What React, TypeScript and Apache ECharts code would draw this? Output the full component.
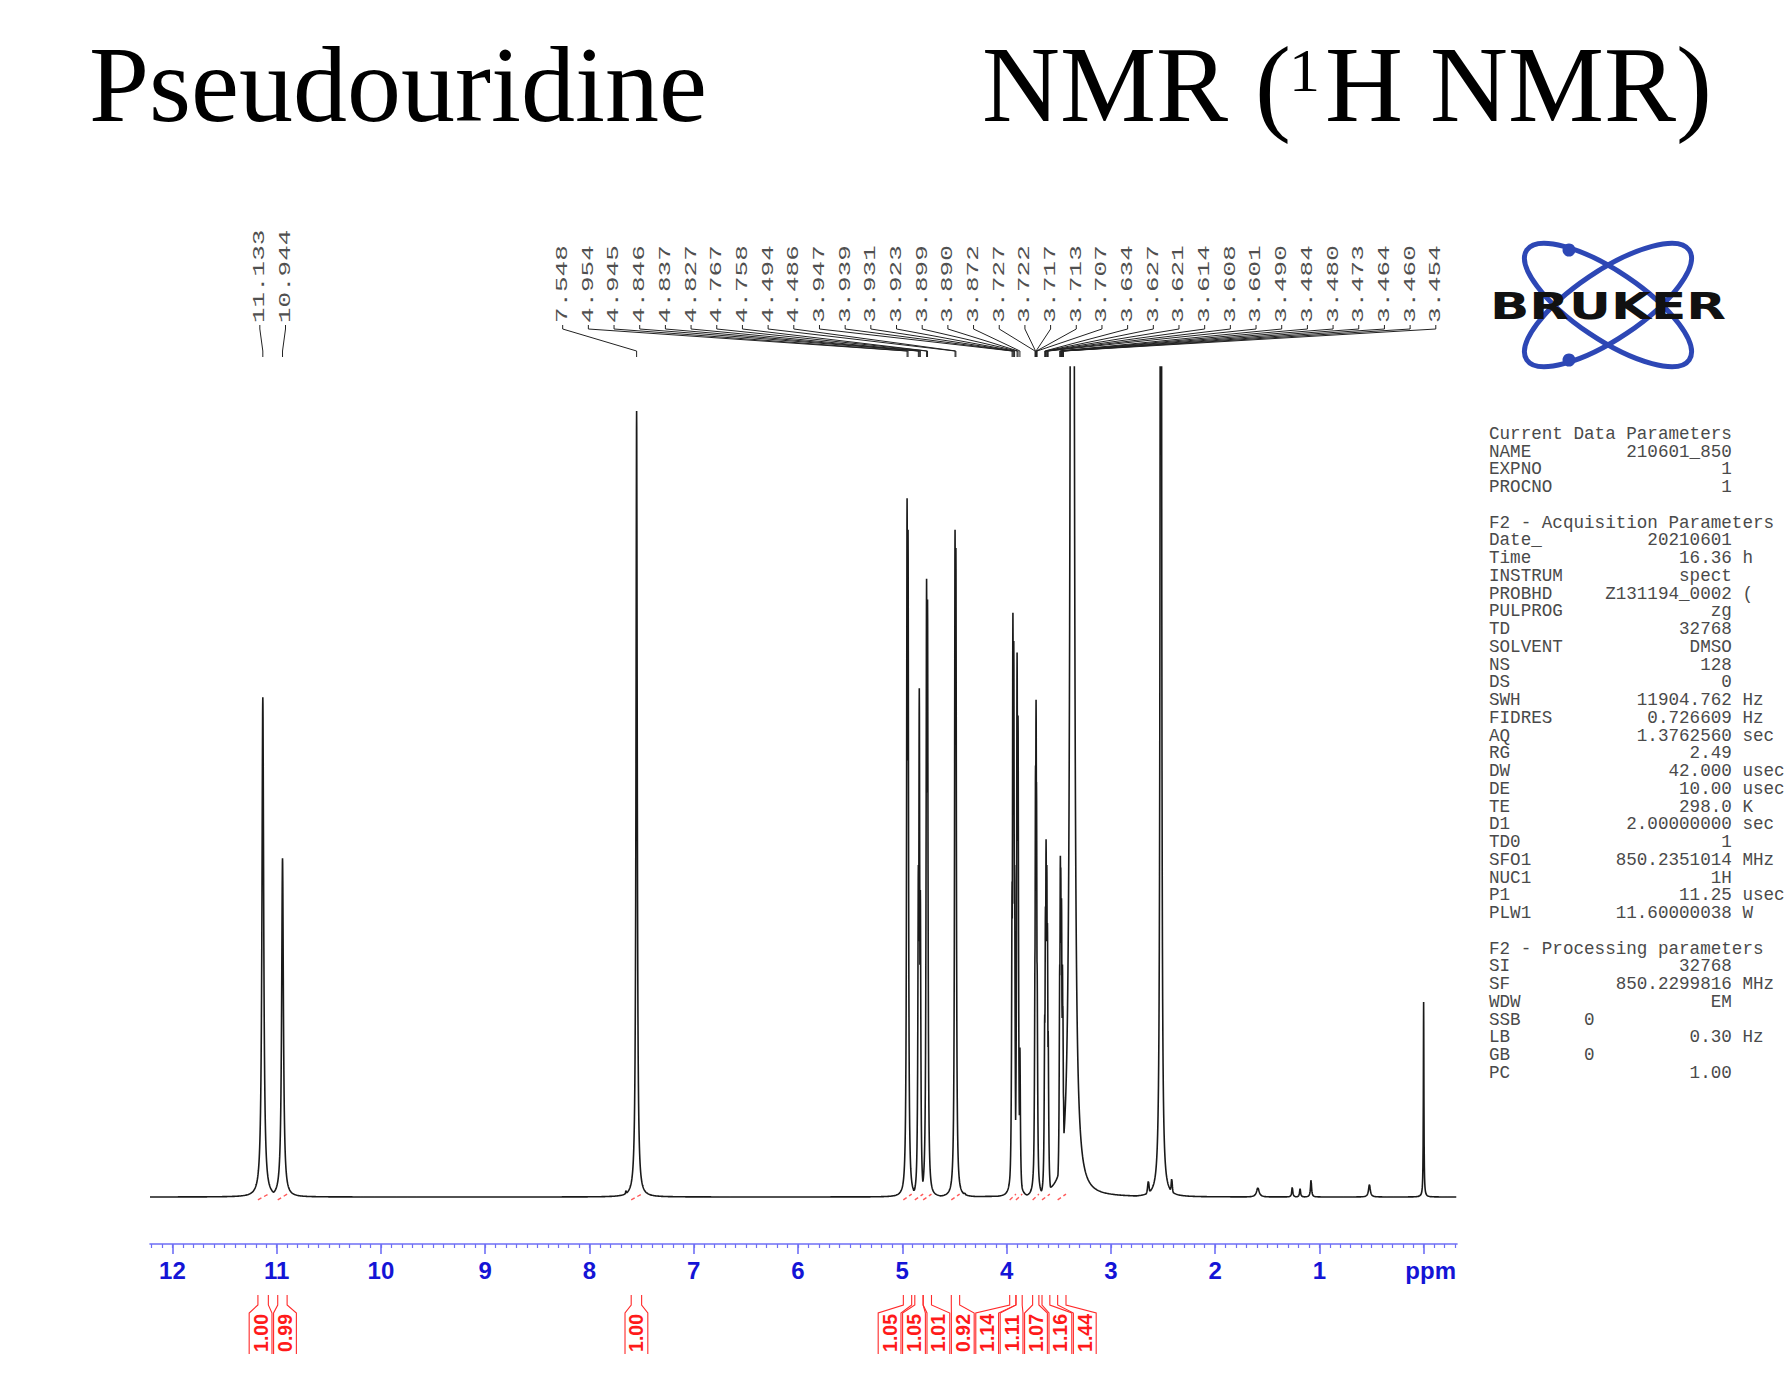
import React, { useEffect, useRef } from 'react';
import * as echarts from 'echarts';

// ---------- data ----------
const labeledShifts = [11.133, 10.944, 7.548, 4.954, 4.945, 4.846, 4.837, 4.827, 4.767, 4.758, 4.494, 4.486, 3.947, 3.939, 3.931, 3.923, 3.899, 3.890, 3.872, 3.727, 3.722, 3.717, 3.713, 3.707, 3.634, 3.627, 3.621, 3.614, 3.608, 3.601, 3.490, 3.484, 3.480, 3.473, 3.464, 3.460, 3.454];
const labeledHeights = [60.2, 40.8, 94.7, 84.2, 80.4, 40, 61.3, 37, 74.5, 72, 80.4, 78.2, 38, 70.4, 67, 40, 65.6, 58, 18, 30, 52, 59.9, 50, 28, 22, 35, 43.1, 40, 33, 20, 28, 41.1, 39.7, 36, 28, 23, 12];
const labeledWidths = [0.010, 0.010, 0.007, 0.0055, 0.0055, 0.0055, 0.0055, 0.0055, 0.0055, 0.0055, 0.0055, 0.0055, 0.0055, 0.0055, 0.0055, 0.0055, 0.0055, 0.0055, 0.0055, 0.0055, 0.0055, 0.0055, 0.0055, 0.0055, 0.0055, 0.0055, 0.0055, 0.0055, 0.0055, 0.0055, 0.0055, 0.0055, 0.0055, 0.0055, 0.0055, 0.0055, 0.0055];

// unlabeled signals: water, DMSO, TMS and small impurities
const extraShifts = [3.37, 2.52, 0.0, 2.64, 2.416, 1.59, 1.26, 1.185, 1.08, 0.52, 7.65, 7.45, 4.40];
const extraHeights = [600, 300, 23.5, 1.9, 2.2, 1.1, 1.2, 1.0, 2.1, 1.5, 0.8, 0.5, 0.5];
const extraWidths = [0.009, 0.005, 0.003, 0.01, 0.008, 0.015, 0.006, 0.006, 0.006, 0.01, 0.006, 0.006, 0.01];

const integralRanges = [[11.18, 11.08], [10.99, 10.90], [7.60, 7.50], [4.99, 4.91], [4.88, 4.80], [4.80, 4.72], [4.53, 4.45], [3.97, 3.91], [3.91, 3.85], [3.75, 3.69], [3.66, 3.585], [3.51, 3.43]];
const integralValues = ['1.00', '0.99', '1.00', '1.05', '1.05', '1.01', '0.92', '1.14', '1.11', '1.07', '1.16', '1.44'];

const majorTicks = [0, 1, 2, 3, 4, 5, 6, 7, 8, 9, 10, 11, 12];
const axisUnit = 'ppm';

const paramRows: [string, string, string][] = [
  ['Current Data Parameters', '', ''],
  ['NAME', '210601_850', ''],
  ['EXPNO', '1', ''],
  ['PROCNO', '1', ''],
  ['', '', ''],
  ['F2 - Acquisition Parameters', '', ''],
  ['Date_', '20210601', ''],
  ['Time', '16.36', 'h'],
  ['INSTRUM', 'spect', ''],
  ['PROBHD', 'Z131194_0002', '('],
  ['PULPROG', 'zg', ''],
  ['TD', '32768', ''],
  ['SOLVENT', 'DMSO', ''],
  ['NS', '128', ''],
  ['DS', '0', ''],
  ['SWH', '11904.762', 'Hz'],
  ['FIDRES', '0.726609', 'Hz'],
  ['AQ', '1.3762560', 'sec'],
  ['RG', '2.49', ''],
  ['DW', '42.000', 'usec'],
  ['DE', '10.00', 'usec'],
  ['TE', '298.0', 'K'],
  ['D1', '2.00000000', 'sec'],
  ['TD0', '1', ''],
  ['SFO1', '850.2351014', 'MHz'],
  ['NUC1', '1H', ''],
  ['P1', '11.25', 'usec'],
  ['PLW1', '11.60000038', 'W'],
  ['', '', ''],
  ['F2 - Processing parameters', '', ''],
  ['SI', '32768', ''],
  ['SF', '850.2299816', 'MHz'],
  ['WDW', 'EM', ''],
  ['SSB', '0', 'L'],
  ['LB', '0.30', 'Hz'],
  ['GB', '0', 'L'],
  ['PC', '1.00', ''],
];

// ---------- layout constants ----------
const GRID_LEFT = 150;
const GRID_W = 1307;
const GRID_TOP = 367;
const Y_MIN = -2;
const Y_MAX = 100;
const PX_PER_UNIT = 8.3;
const GRID_H = (Y_MAX - Y_MIN) * PX_PER_UNIT;
const AXIS_Y = 1244;
const X_MIN = -0.32;
const X_MAX = 12.215;

function buildSpectrum() {
  const peaks: { c: number; h: number; g: number }[] = [];
  labeledShifts.forEach((c, i) => peaks.push({ c, h: labeledHeights[i], g: labeledWidths[i] }));
  extraShifts.forEach((c, i) => peaks.push({ c, h: extraHeights[i], g: extraWidths[i] }));
  const xs: number[] = [];
  for (let p = X_MAX; p >= X_MIN; p -= 0.002) xs.push(p);
  peaks.forEach((pk) => { xs.push(pk.c); xs.push(pk.c + 0.0012); xs.push(pk.c - 0.0012); });
  xs.sort((a, b) => b - a);
  return xs.map((x) => {
    let v = 0;
    for (const pk of peaks) {
      const d = x - pk.c;
      const l = (pk.h * pk.g * pk.g) / (d * d + pk.g * pk.g);
      if (l > v) v = l;
    }
    return [x, v];
  });
}

function spread(centers: number[], w: number): number[] {
  const idx = centers.map((c, i) => i).sort((a, b) => centers[a] - centers[b]);
  let clusters = idx.map((i) => ({ items: [i], sum: centers[i], start: centers[i] - w / 2 }));
  let changed = true;
  while (changed) {
    changed = false;
    for (let k = 0; k < clusters.length - 1; k++) {
      const a = clusters[k];
      const b = clusters[k + 1];
      if (a.start + a.items.length * w > b.start) {
        const items = a.items.concat(b.items);
        const sum = a.sum + b.sum;
        clusters.splice(k, 2, { items, sum, start: sum / items.length - (items.length * w) / 2 });
        changed = true;
        break;
      }
    }
  }
  const out: number[] = new Array(centers.length);
  clusters.forEach((cl) => cl.items.forEach((it, j) => { out[it] = cl.start + w / 2 + j * w; }));
  return out;
}

function paramText() {
  return paramRows.map(([label, value, unit]) => {
    if (!value) return label;
    if (unit === 'L') return label + ' '.repeat(9 - label.length) + value;
    const pad = Math.max(1, 23 - label.length - value.length);
    return label + ' '.repeat(pad) + value + (unit ? ' ' + unit : '');
  }).join('\n');
}

export default function App() {
  const ref = useRef<HTMLDivElement>(null);
  useEffect(() => {
    document.body.style.margin = '0';
    document.body.style.overflow = 'hidden';
    const chart = echarts.init(ref.current!, undefined, { renderer: 'svg', width: 1789, height: 1378 });
    const spectrum = buildSpectrum();
    const minorTicks: number[] = [];
    for (let k = -3; k <= 122; k++) minorTicks.push(k / 10);
    const axisOffset = AXIS_Y - (GRID_TOP + GRID_H);
    const axisBlue = '#6f6ff5';
    const labelBlue = '#1414d6';

    const option: any = {
      animation: false,
      grid: { left: GRID_LEFT, top: GRID_TOP, width: GRID_W, height: GRID_H, containLabel: false, outerBoundsMode: 'none' },
      xAxis: [
        {
          type: 'value', inverse: true, min: X_MIN, max: X_MAX, position: 'bottom', offset: axisOffset,
          axisLine: { show: true, onZero: false, lineStyle: { color: axisBlue, width: 1.6 } },
          axisTick: { show: true, customValues: majorTicks, length: 10, lineStyle: { color: axisBlue, width: 1.6 } },
          axisLabel: {
            show: true, customValues: majorTicks, margin: 14, color: labelBlue, fontWeight: 'bold', fontSize: 24,
            fontFamily: 'Liberation Sans',
            formatter: (v: number) => (Math.abs(v) < 1e-9 ? '{u|' + axisUnit + '}' : String(v)),
            rich: { u: { color: labelBlue, fontWeight: 'bold', fontSize: 24, fontFamily: 'Liberation Sans', padding: [0, 0, 0, 14] } },
          },
          splitLine: { show: false },
        },
        {
          type: 'value', inverse: true, min: X_MIN, max: X_MAX, position: 'bottom', offset: axisOffset,
          axisLine: { show: false, onZero: false },
          axisTick: { show: true, customValues: minorTicks, length: 4, lineStyle: { color: axisBlue, width: 1.2 } },
          axisLabel: { show: false },
          splitLine: { show: false },
        },
      ],
      yAxis: { type: 'value', min: Y_MIN, max: Y_MAX, show: false, splitLine: { show: false } },
      series: [
        {
          type: 'line', data: spectrum, showSymbol: false, symbol: 'none', clip: true, silent: true,
          lineStyle: { color: '#1a1a1a', width: 1.6 }, z: 2,
        },
        ...integralRanges.map((r) => ({
          type: 'line', data: [[r[0], -0.35], [r[1], 0.35]], showSymbol: false, symbol: 'none', silent: true,
          lineStyle: { color: '#ff5a5a', width: 1.4, type: [4, 3] }, z: 3,
        })),
      ],
    };
    chart.setOption(option);

    const toX = (p: number) => chart.convertToPixel({ xAxisIndex: 0 }, p) as number;
    const els: any[] = [];

    // title
    const titleFont = { fontFamily: 'Liberation Serif', fontSize: 108, fill: '#000' };
    els.push({ type: 'text', x: 89, y: 84, style: { text: 'Pseudouridine', ...titleFont, align: 'left', verticalAlign: 'middle' } });
    els.push({ type: 'text', x: 982, y: 84, style: { text: 'NMR (', ...titleFont, align: 'left', verticalAlign: 'middle' } });
    els.push({ type: 'text', x: 1289, y: 70, style: { text: '1', fontFamily: 'Liberation Serif', fontSize: 62, fill: '#000', align: 'left', verticalAlign: 'middle' } });
    els.push({ type: 'text', x: 1325, y: 84, style: { text: 'H NMR)', ...titleFont, align: 'left', verticalAlign: 'middle' } });

    // peak labels + connectors
    const peakX = labeledShifts.map(toX);
    const labelX = spread(peakX, 25.68);
    labeledShifts.forEach((s, i) => {
      els.push({
        type: 'text', x: labelX[i], y: 323, rotation: Math.PI / 2, scaleX: 1.62,
        style: { text: s.toFixed(3), fontFamily: 'Liberation Mono', fontSize: 16, fill: '#505050', align: 'left', verticalAlign: 'middle' },
      });
      els.push({
        type: 'polyline',
        shape: { points: [[labelX[i], 325], [labelX[i], 329], [peakX[i], 351], [peakX[i], 357]] },
        style: { stroke: '#222', lineWidth: 1, fill: 'none' },
      });
    });

    // integration brackets
    const BW = 24.4;
    const intCenters = integralRanges.map((r) => (toX(r[0]) + toX(r[1])) / 2);
    const boxC = spread(intCenters, BW);
    integralRanges.forEach((r, i) => {
      const x1 = toX(r[0]);
      const x2 = toX(r[1]);
      const bl = boxC[i] - BW / 2 + 0.8;
      const br = boxC[i] + BW / 2 - 0.8;
      const st = { stroke: '#ff2a2a', lineWidth: 1.1, fill: 'none' };
      els.push({ type: 'polyline', shape: { points: [[x1, 1295], [x1, 1305], [bl, 1313], [bl, 1354]] }, style: st });
      els.push({ type: 'polyline', shape: { points: [[x2, 1295], [x2, 1305], [br, 1313], [br, 1354]] }, style: st });
      els.push({
        type: 'text', x: boxC[i], y: 1333, rotation: Math.PI / 2,
        style: { text: integralValues[i], fontFamily: 'Liberation Sans', fontWeight: 'bold', fontSize: 19.5, fill: '#ff1a1a', align: 'center', verticalAlign: 'middle' },
      });
    });

    // parameter block
    els.push({
      type: 'text', x: 1489, y: 425,
      style: { text: paramText(), fontFamily: 'Liberation Mono', fontSize: 17.6, lineHeight: 17.75, fill: '#4a4a4a', align: 'left', verticalAlign: 'top' },
    });

    // Bruker logo
    const blue = '#2d47b5';
    els.push({ type: 'ellipse', x: 1608, y: 305, rotation: -0.593, shape: { cx: 0, cy: 0, rx: 98, ry: 34 }, style: { fill: 'none', stroke: blue, lineWidth: 5 } });
    els.push({ type: 'ellipse', x: 1608, y: 305, rotation: 0.593, shape: { cx: 0, cy: 0, rx: 98, ry: 34 }, style: { fill: 'none', stroke: blue, lineWidth: 5 } });
    els.push({ type: 'circle', x: 1569, y: 250, shape: { cx: 0, cy: 0, r: 6.5 }, style: { fill: blue } });
    els.push({ type: 'circle', x: 1569, y: 360, shape: { cx: 0, cy: 0, r: 6.5 }, style: { fill: blue } });
    els.push({
      type: 'text', x: 1608, y: 306, scaleX: 1.36,
      style: { text: 'BRUKER', fontFamily: 'DejaVu Sans', fontWeight: 'bold', fontSize: 38, fill: '#111', align: 'center', verticalAlign: 'middle' },
    });

    chart.setOption({ graphic: { elements: els } });
    return () => chart.dispose();
  }, []);
  return <div ref={ref} style={{ width: 1789, height: 1378, position: 'absolute', left: 0, top: 0 }} />;
}
